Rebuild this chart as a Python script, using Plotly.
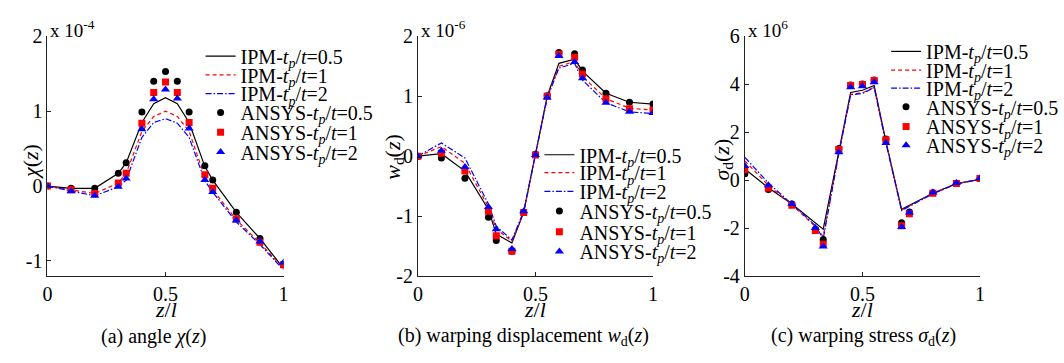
import plotly.graph_objects as go

# ---------------- data ----------------
z = [0, 0.1, 0.2, 0.3, 1/3, 0.4, 0.45, 0.5, 0.55, 0.6, 2/3, 0.7, 0.8, 0.9, 1.0]

# (a) angle chi(z), x 1e-4
chi_ipm_05 = [0, -0.03, -0.03, 0.17, 0.31, 0.85, 1.10, 1.18, 1.10, 0.85, 0.26, 0.08, -0.35, -0.70, -1.10]
chi_ipm_1 = [0, -0.05, -0.10, 0.04, 0.17, 0.73, 0.93, 1.00, 0.93, 0.73, 0.12, -0.05, -0.45, -0.76, -1.10]
chi_ipm_2 = [0, -0.07, -0.13, -0.01, 0.08, 0.65, 0.85, 0.90, 0.84, 0.65, 0.07, -0.08, -0.48, -0.78, -1.12]
chi_ansys_05 = [0, -0.03, -0.03, 0.17, 0.31, 0.99, 1.40, 1.53, 1.40, 0.99, 0.27, 0.08, -0.35, -0.70, -1.05]
chi_ansys_1 = [0, -0.05, -0.10, 0.04, 0.17, 0.84, 1.25, 1.39, 1.25, 0.85, 0.15, -0.03, -0.44, -0.75, -1.05]
chi_ansys_2 = [0, -0.07, -0.13, -0.01, 0.10, 0.76, 1.16, 1.29, 1.17, 0.77, 0.08, -0.08, -0.46, -0.74, -1.02]

# (b) warping displacement wd(z), x 1e-6
wd_ipm_05 = [0, 0.04, -0.25, -0.89, -1.30, -1.45, -0.94, 0.03, 1.00, 1.55, 1.62, 1.42, 1.05, 0.90, 0.87]
wd_ipm_1 = [0, 0.16, -0.12, -0.85, -1.22, -1.42, -0.94, 0.02, 0.98, 1.50, 1.58, 1.33, 0.96, 0.80, 0.77]
wd_ipm_2 = [0, 0.22, -0.03, -0.80, -1.17, -1.40, -0.92, 0.02, 0.97, 1.47, 1.55, 1.27, 0.89, 0.74, 0.71]
wd_ansys_05 = [0, -0.03, -0.37, -1.02, -1.41, -1.59, -0.94, 0.03, 1.01, 1.73, 1.71, 1.44, 1.05, 0.90, 0.87]
wd_ansys_1 = [0, 0.05, -0.25, -0.92, -1.33, -1.59, -0.94, 0.02, 1.00, 1.70, 1.65, 1.37, 0.96, 0.79, 0.77]
wd_ansys_2 = [0, 0.09, -0.18, -0.85, -1.22, -1.55, -0.92, 0.02, 0.98, 1.67, 1.57, 1.30, 0.89, 0.74, 0.72]

# (c) warping stress sd(z), x 1e6
sd_ipm_05 = [0.46, -0.32, -1.00, -1.78, -2.05, 1.20, 3.66, 3.75, 3.95, 1.62, -1.22, -1.05, -0.55, -0.15, 0.03]
sd_ipm_1 = [0.80, -0.22, -1.02, -1.95, -2.35, 1.15, 3.58, 3.64, 3.88, 1.58, -1.25, -1.08, -0.56, -0.15, 0.03]
sd_ipm_2 = [0.95, -0.12, -1.00, -1.90, -2.45, 1.12, 3.56, 3.62, 3.86, 1.55, -1.27, -1.10, -0.57, -0.16, 0.03]
sd_ansys_05 = [0.26, -0.39, -1.00, -2.05, -2.48, 1.32, 3.97, 4.01, 4.18, 1.71, -1.78, -1.33, -0.53, -0.13, 0.07]
sd_ansys_1 = [0.43, -0.33, -1.05, -2.10, -2.68, 1.28, 3.95, 3.99, 4.16, 1.68, -1.91, -1.41, -0.55, -0.14, 0.07]
sd_ansys_2 = [0.59, -0.22, -1.00, -2.00, -2.77, 1.16, 3.88, 3.92, 4.08, 1.55, -1.96, -1.35, -0.52, -0.12, 0.08]

names = ["IPM-<i>t</i><sub><i>p</i></sub>/<i>t</i>=0.5",
         "IPM-<i>t</i><sub><i>p</i></sub>/<i>t</i>=1",
         "IPM-<i>t</i><sub><i>p</i></sub>/<i>t</i>=2",
         "ANSYS-<i>t</i><sub><i>p</i></sub>/<i>t</i>=0.5",
         "ANSYS-<i>t</i><sub><i>p</i></sub>/<i>t</i>=1",
         "ANSYS-<i>t</i><sub><i>p</i></sub>/<i>t</i>=2"]

# ---------------- style ----------------
W, H = 1064, 363
FONT = "Liberation Serif"
colors = ["#000000", "#ff0000", "#0000ff"]
dashes = ["solid", "4px,3px", "6px,2px,1.5px,2px"]
symbols = ["circle", "square", "triangle-up"]
LEG_FS = 20
TICK_FS = 20

def px(x):
    return x / W

def py(y):
    return 1 - y / H

panels = [
    dict(xd=(43, 282), yr=[-1.2, 2], ticks=[-1, 0, 1, 2],
         lines=[chi_ipm_05, chi_ipm_1, chi_ipm_2],
         pts=[chi_ansys_05, chi_ansys_1, chi_ansys_2],
         legx=198, legy=[48, 68, 88, 108, 129, 150], exp="x 10<sup>-4</sup>",
         ylab="<i>χ</i>(<i>z</i>)", ylabpos=(26, 160),
         cap="(a) angle <i>χ</i>(<i>z</i>)", cappos=150),
    dict(xd=(418, 656), yr=[-2, 2], ticks=[-2, -1, 0, 1, 2],
         lines=[wd_ipm_05, wd_ipm_1, wd_ipm_2],
         pts=[wd_ansys_05, wd_ansys_1, wd_ansys_2],
         legx=541, legy=[153, 172, 192, 213, 235, 256], exp="x 10<sup>-6</sup>",
         ylab="<i>w</i><sub>d</sub>(<i>z</i>)", ylabpos=(393, 155),
         cap="(b) warping displacement <i>w</i><sub>d</sub>(<i>z</i>)", cappos=525),
    dict(xd=(749, 987), yr=[-4, 6], ticks=[-4, -2, 0, 2, 4, 6],
         lines=[sd_ipm_05, sd_ipm_1, sd_ipm_2],
         pts=[sd_ansys_05, sd_ansys_1, sd_ansys_2],
         legx=892, legy=[43, 63, 82, 102, 123, 143], exp="x 10<sup>6</sup>",
         ylab="<i>σ</i><sub>d</sub>(<i>z</i>)", ylabpos=(727, 158),
         cap="(c) warping stress <i>σ</i><sub>d</sub>(<i>z</i>)", cappos=869),
]

fig = go.Figure()
layout = dict(width=W, height=H, margin=dict(l=0, r=0, t=0, b=0),
              paper_bgcolor="white", plot_bgcolor="white",
              font=dict(family=FONT, size=20, color="black"),
              showlegend=True, annotations=[])

Y_TOP, Y_BOT = 27, 282
for i, p in enumerate(panels):
    k = "" if i == 0 else str(i + 1)
    xa, ya = "x" + k, "y" + k
    legs = []
    for j in range(6):
        n = i * 6 + j + 1
        legs.append("legend" if n == 1 else "legend" + str(n))
    for j in range(3):
        fig.add_trace(go.Scatter(x=z, y=p["lines"][j], mode="lines", name=names[j],
                                 line=dict(color=colors[j], width=1.2, dash=dashes[j]),
                                 xaxis=xa, yaxis=ya, legend=legs[j]))
    for j in range(3):
        fig.add_trace(go.Scatter(x=z, y=p["pts"][j], mode="markers", name=names[3 + j],
                                 marker=dict(color=colors[j], size=7 if j < 2 else 8,
                                             symbol=symbols[j], line=dict(width=0)),
                                 xaxis=xa, yaxis=ya, legend=legs[3 + j]))
    for j in range(6):
        layout[legs[j]] = dict(x=px(p["legx"]), y=py(p["legy"][j]), xanchor="left",
                               yanchor="middle", bgcolor="rgba(0,0,0,0)", borderwidth=0,
                               font=dict(family=FONT, size=LEG_FS, color="black"))
    axcommon = dict(showline=True, linecolor="#222222", linewidth=1, mirror=False,
                    ticks="inside", ticklen=4, tickcolor="#222222", showgrid=False,
                    zeroline=False, tickfont=dict(family=FONT, size=TICK_FS, color="black"))
    layout["xaxis" + k] = dict(domain=[px(p["xd"][0]), px(p["xd"][1])], range=[0, 1],
                               tickvals=[0, 0.5, 1], ticktext=["0", "0.5", "1"],
                               anchor=ya, **axcommon)
    layout["yaxis" + k] = dict(domain=[py(Y_BOT), py(Y_TOP)], range=p["yr"],
                               tickvals=p["ticks"], ticktext=[str(t) for t in p["ticks"]],
                               anchor=xa, **axcommon)
    ann = layout["annotations"]
    ann.append(dict(text=p["exp"], x=px(p["xd"][0] + 1), y=py(19), xref="paper", yref="paper",
                    xanchor="left", yanchor="middle", showarrow=False,
                    font=dict(family=FONT, size=19)))
    ann.append(dict(text=p["ylab"], x=px(p["ylabpos"][0]), y=py(p["ylabpos"][1]),
                    xref="paper", yref="paper", textangle=-90, showarrow=False,
                    xanchor="center", yanchor="middle", font=dict(family=FONT, size=22)))
    ann.append(dict(text="<i>z</i>/<i>l</i>", x=px((p["xd"][0] + p["xd"][1]) / 2), y=py(318),
                    xref="paper", yref="paper", showarrow=False,
                    xanchor="center", yanchor="middle", font=dict(family=FONT, size=22)))
    ann.append(dict(text=p["cap"], x=px(p["cappos"]), y=py(347),
                    xref="paper", yref="paper", showarrow=False,
                    xanchor="center", yanchor="middle", font=dict(family=FONT, size=20)))

fig.update_layout(**layout)
fig.write_html("out.html")
